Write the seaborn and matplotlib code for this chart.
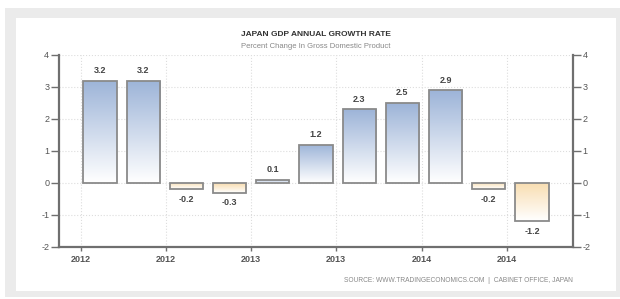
import numpy as np
import pandas as pd
import seaborn as sns
import matplotlib.pyplot as plt
from matplotlib.patches import Rectangle
from matplotlib.colors import LinearSegmentedColormap

sns.set_theme(style="white")
plt.rcParams["font.family"] = ["Liberation Sans", "DejaVu Sans"]
plt.rcParams["axes.unicode_minus"] = False

quarters = ["2012Q1", "2012Q2", "2012Q3", "2012Q4", "2013Q1", "2013Q2",
            "2013Q3", "2013Q4", "2014Q1", "2014Q2", "2014Q3"]
growth = [3.2, 3.2, -0.2, -0.3, 0.1, 1.2, 2.3, 2.5, 2.9, -0.2, -1.2]
year_ticks = [-0.45, 1.52, 3.49, 5.47, 7.45, 9.42]
year_labels = ["2012", "2012", "2013", "2013", "2014", "2014"]

df = pd.DataFrame({"quarter": quarters, "growth": growth})

fig = plt.figure(figsize=(6.2, 2.99), dpi=100)
fig.patch.set_facecolor("white")
# outer grey frame and white panel
fig.patches.append(Rectangle((5 / 620, 2 / 299), 615 / 620, 289 / 299,
                             transform=fig.transFigure, facecolor="#ebebeb",
                             edgecolor="none", zorder=-2))
fig.patches.append(Rectangle((16 / 620, 8 / 299), 600 / 620, 273 / 299,
                             transform=fig.transFigure, facecolor="white",
                             edgecolor="none", zorder=-1))

ax = fig.add_axes([59 / 620, 1 - 247 / 299, 514 / 620, 192 / 299])
ax.set_facecolor("none")

sns.barplot(data=df, x="quarter", y="growth", ax=ax, width=0.77,
            color="white", edgecolor="#8a8a8a", linewidth=1.3,
            saturation=1, zorder=3)

blue = LinearSegmentedColormap.from_list("b", ["#ffffff", "#9db4d8"])
orange = LinearSegmentedColormap.from_list("o", ["#ffffff", "#f8ddb0"])
grad = np.linspace(0, 1, 100).reshape(-1, 1)
for patch, val in zip(ax.patches, growth):
    x0, y0 = patch.get_x(), patch.get_y()
    w, h = patch.get_width(), patch.get_height()
    lo, hi = min(y0, y0 + h), max(y0, y0 + h)
    im = ax.imshow(grad, extent=[x0, x0 + w, lo, hi], origin="lower",
                   aspect="auto", cmap=blue if val >= 0 else orange,
                   zorder=2.5)
    im.set_clip_path(patch)
    patch.set_facecolor("none")
    if val >= 0:
        ax.annotate(f"{val:.1f}", (x0 + w / 2, hi), xytext=(0, 4),
                    textcoords="offset points", ha="center", va="bottom",
                    fontsize=6.5, color="#444444", fontweight="bold")
    else:
        ax.annotate(f"{val:.1f}", (x0 + w / 2, lo), xytext=(0, -4),
                    textcoords="offset points", ha="center", va="top",
                    fontsize=6.5, color="#444444", fontweight="bold")

ax.set_xlim(-0.95, 10.95)
ax.set_ylim(-2, 4)
ax.set_yticks(range(-2, 5))
ax.set_xticks(year_ticks)
ax.set_xticklabels(year_labels)
ax.set_xlabel("")
ax.set_ylabel("")

ax.grid(True, color="#dddddd", linestyle=":", linewidth=0.8, zorder=0)
for s in ["left", "right", "bottom"]:
    ax.spines[s].set_visible(True)
    ax.spines[s].set_color("#6f6f6f")
    ax.spines[s].set_linewidth(1.6)
ax.spines["top"].set_visible(False)

ax.tick_params(axis="y", which="both", left=True, right=True,
               labelleft=True, labelright=True, direction="out",
               length=6, width=1, color="#6f6f6f", labelsize=6.5,
               labelcolor="#555555", pad=1)
ax.tick_params(axis="x", bottom=True, direction="out", length=3, width=1,
               color="#6f6f6f", labelsize=6.5, labelcolor="#555555", pad=3)
for lbl in ax.get_xticklabels():
    lbl.set_fontweight("bold")

fig.text(316 / 620, 1 - 35 / 299, "JAPAN GDP ANNUAL GROWTH RATE",
         ha="center", va="center", fontsize=6, fontweight="bold",
         color="#333333")
fig.text(316 / 620, 1 - 47 / 299, "Percent Change In Gross Domestic Product",
         ha="center", va="center", fontsize=5.5, color="#888888")
fig.text(458 / 620, 1 - 280 / 299,
         "SOURCE: WWW.TRADINGECONOMICS.COM  |  CABINET OFFICE, JAPAN",
         ha="center", va="center", fontsize=4.8, color="#888888")

fig.savefig("out.png", dpi=100)
